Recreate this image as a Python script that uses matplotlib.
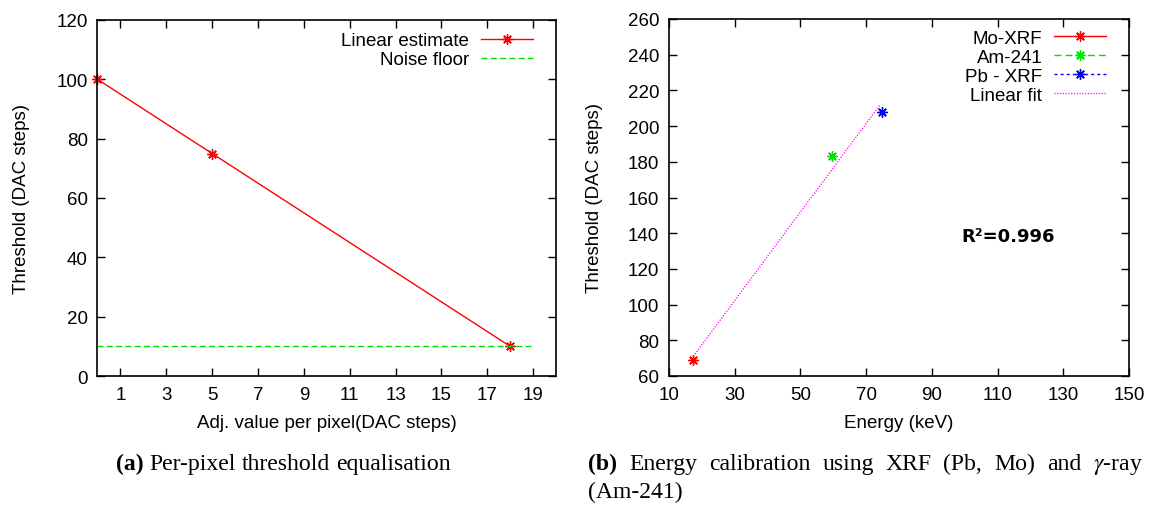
import numpy as np
import matplotlib
matplotlib.use('Agg')
import matplotlib.pyplot as plt

# (a) per-pixel threshold equalisation
adj_values = [0, 5, 18]
thresholds = [100, 75, 10]
noise_floor = 10
noise_x = [0, 19]

# (b) energy calibration
sources = ['Mo-XRF', 'Am-241', 'Pb - XRF']
energies_kev = [17.4, 59.5, 74.9]
dac_thresholds = [69, 183, 208]
fit_range = [17.4, 74.2]
r_squared = 0.996

W, H = 1149, 506
plt.rcParams['font.family'] = ['Liberation Sans', 'DejaVu Sans']
plt.rcParams['font.size'] = 13.5
plt.rcParams['mathtext.fontset'] = 'stix'

star = (8, 2, 0)

fig = plt.figure(figsize=(W / 100, H / 100), dpi=100)
ax1 = fig.add_axes([97.5 / W, 1 - 377 / H, 458.5 / W, 356 / H])
ax2 = fig.add_axes([669 / W, 1 - 377 / H, 460 / W, 357 / H])

for ax in (ax1, ax2):
    ax.tick_params(direction='in', top=True, right=True, length=6, width=1, pad=7,
                   labelsize=13.5)
    for s in ax.spines.values():
        s.set_linewidth(1.2)

# ---- left panel
ax1.plot(adj_values, thresholds, color='#ff0000', lw=1.0, marker=star, ms=7.5, mew=1,
         label='Linear estimate', clip_on=False)
ax1.plot(noise_x, [noise_floor] * len(noise_x), color='#00e000', lw=1.0,
         dashes=(4.3, 2.4), label='Noise floor')
ax1.set_xlim(0, 20)
ax1.set_ylim(0, 120)
ax1.set_xticks(np.arange(1, 20, 2))
ax1.set_yticks(np.arange(0, 121, 20))
ax1.set_xlabel('Adj. value per pixel(DAC steps)')
ax1.set_ylabel('Threshold (DAC steps)')
ax1.xaxis.set_label_coords(0.5, -0.106)
ax1.yaxis.set_label_coords(-0.147, 0.5)
ax1.legend(loc='upper right', bbox_to_anchor=(1 - 23 / 458.5, 1 - 12 / 356),
           frameon=False, markerfirst=False, handlelength=2.8, handletextpad=0.6,
           labelspacing=0.1, borderaxespad=0, borderpad=0, numpoints=1)

# ---- right panel
colors = ['#ff0000', '#00e000', '#0000ff']
styles = [dict(ls='-'), dict(dashes=(5, 3)), dict(dashes=(2.2, 2.2))]
for name, e, t, c, st in zip(sources, energies_kev, dac_thresholds, colors, styles):
    ax2.plot([e], [t], color=c, lw=1.0, marker=star, ms=7.5, mew=1, label=name, **st)

slope, intercept = np.polyfit(energies_kev, dac_thresholds, 1)
fx = np.array(fit_range)
ax2.plot(fx, slope * fx + intercept, color='#ff00ff', lw=1.0, dashes=(0.8, 1.2),
         label='Linear fit')
ax2.text(113.2, 138.4, f'R\u00b2={r_squared}', fontsize=13, fontweight='bold',
         family='DejaVu Sans', ha='center', va='center')
ax2.set_xlim(10, 150)
ax2.set_ylim(60, 260)
ax2.set_xticks(np.arange(10, 151, 20))
ax2.set_yticks(np.arange(60, 261, 20))
ax2.set_xlabel('Energy (keV)')
ax2.set_ylabel('Threshold (DAC steps)')
ax2.xaxis.set_label_coords(0.5, -0.106)
ax2.yaxis.set_label_coords(-0.143, 0.5)
ax2.legend(loc='upper right', bbox_to_anchor=(1 - 23 / 460, 1 - 10.5 / 357),
           frameon=False, markerfirst=False, handlelength=2.8, handletextpad=0.6,
           labelspacing=0.1, borderaxespad=0, borderpad=0, numpoints=1)

# ---- captions
renderer = fig.canvas.get_renderer()


def place_words(words, x0, y, size, x1=None):
    texts = []
    for w, wt in words:
        texts.append(fig.text(0, 1 - y / H, w, fontsize=size, fontweight=wt,
                              family='Liberation Serif', va='baseline', ha='left'))
    widths = [t.get_window_extent(renderer).width for t in texts]
    if x1 is None:
        gap = 0.25 * size * 100 / 72
    else:
        gap = (x1 - x0 - sum(widths)) / (len(words) - 1)
    x = x0
    for t, wd in zip(texts, widths):
        t.set_x(x / W)
        x += wd + gap
    return x - gap


cap_a = [('(a)', 'bold'), ('Per-pixel', 'normal'), ('threshold', 'normal'),
         ('equalisation', 'normal')]
cap_b1 = [('(b)', 'bold'), ('Energy', 'normal'), ('calibration', 'normal'),
          ('using', 'normal'), ('XRF', 'normal'), ('(Pb,', 'normal'), ('Mo)', 'normal'),
          ('and', 'normal'), (r'$\gamma$-ray', 'normal')]
cap_b2 = [('(Am-241)', 'normal')]

# size the caption font so line (a) spans its width in the reference
probe = fig.text(0, 0, '(a) Per-pixel threshold equalisation', fontsize=14,
                 family='Liberation Serif')
pw = probe.get_window_extent(renderer).width
probe.remove()
cap_size = 14 * 336 / pw

place_words(cap_a, 116, 470, cap_size)
place_words(cap_b1, 588, 470, cap_size, x1=1143)
place_words(cap_b2, 588, 498, cap_size)

fig.savefig('out.png', dpi=100)
